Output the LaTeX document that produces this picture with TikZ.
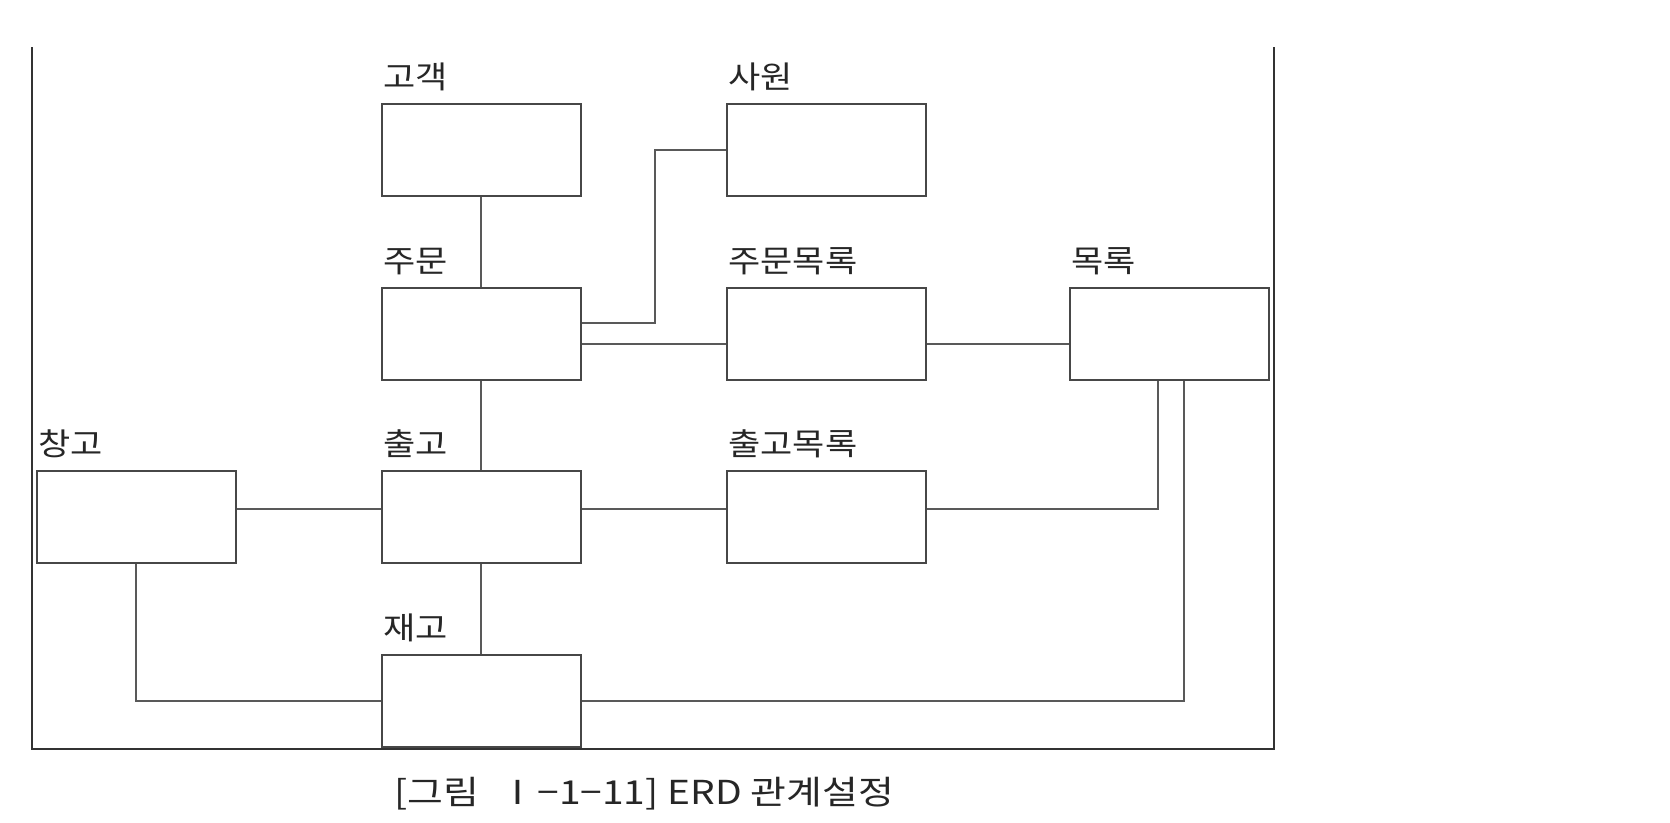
\documentclass[tikz,border=0pt]{standalone}
\usepackage{fontspec}
\setmainfont{Noto Sans CJK KR}
\usetikzlibrary{positioning}
\newcommand{\hw}[1]{\scalebox{1.13}[1]{#1}}

\begin{document}
\begin{tikzpicture}[x=1pt,y=-1pt,line width=2pt,draw=black!72,
  ent/.style={draw,fill=white,minimum width=199pt,minimum height=92pt,inner sep=0pt},
  lbl/.style={anchor=south west,inner sep=0pt,yshift=11pt,xshift=2pt,
    font=\fontsize{31}{36}\selectfont,text=black!85},
  link/.style={draw=black!65}]
  \useasboundingbox (0,0) rectangle (1670,822);
  % entities
  \node[ent,label={[lbl]north west:\hw{고객}}] (gogaek) at (481,150) {};
  \node[ent,label={[lbl]north west:\hw{사원}}] (sawon) at (826,150) {};
  \node[ent,label={[lbl]north west:\hw{주문}}] (jumun) at (481,334) {};
  \node[ent,label={[lbl]north west:\hw{주문목록}}] (jumunmok) at (826,334) {};
  \node[ent,label={[lbl]north west:\hw{목록}}] (mokrok) at (1169,334) {};
  \node[ent,label={[lbl]north west:\hw{창고}}] (changgo) at (136,517) {};
  \node[ent,label={[lbl]north west:\hw{출고}}] (chulgo) at (481,517) {};
  \node[ent,label={[lbl]north west:\hw{출고목록}}] (chulgomok) at (826,517) {};
  \node[ent,label={[lbl]north west:\hw{재고}}] (jaego) at (481,701) {};
  % relations
  \draw[link] (gogaek.south) -- (jumun.north);
  \draw[link] ([yshift=11pt]jumun.east) -- ++(73,0) |- (sawon.west);
  \draw[link] ([yshift=-10pt]jumun.east) -- ([yshift=-10pt]jumunmok.west);
  \draw[link] ([yshift=-10pt]jumunmok.east) -- ([yshift=-10pt]mokrok.west);
  \draw[link] (jumun.south) -- (chulgo.north);
  \draw[link] ([yshift=8pt]changgo.east) -- ([yshift=8pt]chulgo.west);
  \draw[link] ([yshift=8pt]chulgo.east) -- ([yshift=8pt]chulgomok.west);
  \draw[link] ([yshift=8pt]chulgomok.east) -| ([xshift=-11pt]mokrok.south);
  \draw[link] (chulgo.south) -- (jaego.north);
  \draw[link] (changgo.south) |- (jaego.west);
  \draw[link] (jaego.east) -| ([xshift=15pt]mokrok.south);
  % frame
  \draw[black!80] (32,47) -- (32,749) -- (1274,749) -- (1274,47);
  \node[font=\fontsize{33}{38}\selectfont,text=black!85] (caption) at (644,794)
    {\scalebox{1.18}[1]{[그림\hspace{0.5em}Ⅰ−1−11] ERD 관계설정}};
\end{tikzpicture}
\end{document}
